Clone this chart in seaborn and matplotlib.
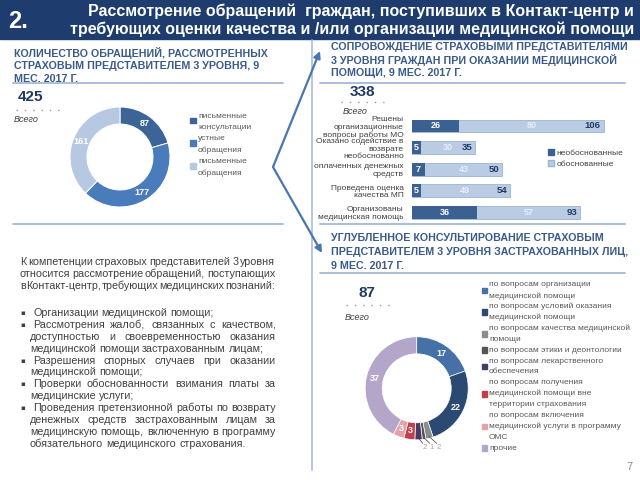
import matplotlib
matplotlib.use('Agg')
import matplotlib.pyplot as plt
import seaborn as sns
import numpy as np
import pandas as pd
from matplotlib.patches import Rectangle, Patch
from matplotlib import font_manager

# ---------------- data ----------------
left_labels = ['письменные\nконсультации', 'устные\nобращения', 'письменные\nобращения']
left_values = [87, 177, 161]

bar_categories = ['Решены\nорганизационные\nвопросы работы МО',
                  'Оказано содействие в\nвозврате\nнеобоснованно',
                  'оплаченных денежных\nсредств',
                  'Проведена оценка\nкачества МП',
                  'Организованы\nмедицинская помощь']
bar_unfounded = [26, 5, 7, 5, 36]
bar_founded = [80, 30, 43, 49, 57]
bar_series = ['необоснованные', 'обоснованные']

consult_labels = ['по вопросам организации\nмедицинской помощи',
                  'по вопросам условий оказания\nмедицинской помощи',
                  'по вопросам качества медицинской\nпомощи',
                  'по вопросам этики и деонтологии',
                  'по вопросам лекарственного\nобеспечения',
                  'по вопросам получения\nмедицинской помощи вне\nтерритории страхования',
                  'по вопросам включения\nмедицинской услуги в программу\nОМС',
                  'прочие']
consult_values = [17, 22, 2, 1, 2, 3, 3, 37]

header_num = '2.'
header_title = ['Рассмотрение обращений  граждан, поступивших в Контакт-центр и',
                'требующих оценки качества и /или организации медицинской помощи']
title_left = ['КОЛИЧЕСТВО ОБРАЩЕНИЙ, РАССМОТРЕННЫХ', 'СТРАХОВЫМ ПРЕДСТАВИТЕЛЕМ 3 УРОВНЯ, 9', 'МЕС. 2017 Г.']
title_rtop = ['СОПРОВОЖДЕНИЕ СТРАХОВЫМИ ПРЕДСТАВИТЕЛЯМИ', '3 УРОВНЯ ГРАЖДАН ПРИ ОКАЗАНИИ МЕДИЦИНСКОЙ', 'ПОМОЩИ, 9 МЕС. 2017 Г.']
title_rbot = ['УГЛУБЛЕННОЕ КОНСУЛЬТИРОВАНИЕ СТРАХОВЫМ', 'ПРЕДСТАВИТЕЛЕМ 3 УРОВНЯ ЗАСТРАХОВАННЫХ ЛИЦ,', '9 МЕС. 2017 Г.']
total_word = 'Всего'

para_intro = [('К компетенции страховых представителей 3 уровня', True),
              ('относится рассмотрение обращений, поступающих', True),
              ('в Контакт-центр, требующих медицинских познаний:', True)]
para_bullets = [
    [('Организации медицинской помощи;', False)],
    [('Рассмотрения жалоб, связанных с качеством,', True),
     ('доступностью и своевременностью оказания', True),
     ('медицинской помощи застрахованным лицам;', False)],
    [('Разрешения спорных случаев при оказании', True),
     ('медицинской помощи;', False)],
    [('Проверки обоснованности взимания платы за', True),
     ('медицинские услуги;', False)],
    [('Проведения претензионной работы по возврату', True),
     ('денежных средств застрахованным лицам за', True),
     ('медицинскую помощь, включенную в программу', True),
     ('обязательного медицинского страхования.', False)],
]
page_no = '7'

# ---------------- style ----------------
sns.set_theme(style='white')
names = {f.name for f in font_manager.fontManager.ttflist}
SANS = 'Liberation Sans' if 'Liberation Sans' in names else 'DejaVu Sans'
plt.rcParams['font.family'] = [SANS, 'DejaVu Sans']

NAVY = '#1e3d6e'
TITLE_C = '#3a5b89'
SEP_C = '#a9bdd9'
NUM_C = '#1f3864'
TXT_C = '#404040'
LEG_C = '#595959'
left_colors = ['#3d6496', '#4a7bbb', '#b6c8e2']
bar_dark, bar_light = '#3b6192', '#b9cce4'
consult_colors = ['#4670a8', '#2b4a72', '#8c8c8c', '#555555', '#463c66', '#c2404c', '#e3a2a8', '#b3a6c8']

W, H = 640, 480
fig = plt.figure(figsize=(6.4, 4.8), dpi=100)
fig.patch.set_facecolor('white')
bg = fig.add_axes([0, 0, 1, 1], zorder=0)
bg.set_xlim(0, W)
bg.set_ylim(H, 0)
bg.axis('off')
renderer = fig.canvas.get_renderer()


def fig_rect(x0, y0, x1, y1):
    return [x0 / W, (H - y1) / H, (x1 - x0) / W, (y1 - y0) / H]


# header
bg.add_patch(Rectangle((0, 0), W, 39, color=NAVY, zorder=1))
bg.text(8, 21, header_num, color='white', fontsize=17, fontweight='bold', va='center', zorder=2)
for i, line in enumerate(header_title):
    bg.text(634, 11 + 18.5 * i, line, color='white', fontsize=11.5, fontweight='bold',
            ha='right', va='center', zorder=2)

# section titles
for lines, x0, y0, dy in [(title_left, 14, 53, 13), (title_rtop, 331, 47, 13), (title_rbot, 331, 238, 14)]:
    for i, line in enumerate(lines):
        bg.text(x0, y0 + dy * i, line, color=TITLE_C, fontsize=7.7, fontweight='bold', va='center')

# separators
for y in (83, 224):
    bg.plot([13, 283], [y, y], color=SEP_C, lw=1.4)
for y in (83, 224, 273):
    bg.plot([320, 625], [y, y], color=SEP_C, lw=1.4)
bg.plot([311.5, 311.5], [40, 470], color=SEP_C, lw=1.2)

# arrows
arrow_kw = dict(arrowstyle='-|>', color='#4a76b0', lw=1.6, mutation_scale=10, shrinkA=0, shrinkB=0)
bg.annotate('', xy=(320, 51), xytext=(273, 167), arrowprops=arrow_kw)
bg.annotate('', xy=(322, 253), xytext=(273, 167), arrowprops=arrow_kw)


def total_block(x_num, y_num, x_dots, y_dots, x_word, y_word, value):
    bg.text(x_num, y_num, str(value), color=NUM_C, fontsize=11, fontweight='bold', ha='center', va='center')
    bg.plot(x_dots, [y_dots, y_dots], color='#9a9a9a', lw=1.0, ls=(0, (1, 5)))
    bg.text(x_word, y_word, total_word, color=TXT_C, fontsize=6.5, fontstyle='italic', va='center')


total_block(30, 97, [16, 60], 110, 14, 119, sum(left_values))
total_block(362, 92, [341, 384], 102, 343, 111, sum(bar_unfounded) + sum(bar_founded))
total_block(367, 293, [346, 390], 305, 345, 318, sum(consult_values))

# ---------------- left donut ----------------
axd1 = fig.add_axes(fig_rect(70, 107, 170, 207), zorder=3)
axd1.pie(left_values, colors=left_colors, startangle=90, counterclock=False,
         wedgeprops=dict(width=0.34, edgecolor='white', linewidth=0.7))
axd1.set_xlim(-1, 1)
axd1.set_ylim(-1, 1)
cum = np.cumsum([0] + left_values)
tot = cum[-1]
for i, v in enumerate(left_values):
    ang = np.deg2rad(90 - 360 * (cum[i] + v / 2) / tot)
    axd1.text(0.83 * np.cos(ang), 0.83 * np.sin(ang), str(v), color='white', fontsize=6.5,
              fontweight='bold', ha='center', va='center')

# left legend
y = 116
for lab, col in zip(left_labels, left_colors):
    lines = lab.split('\n')
    bg.add_patch(Rectangle((190, y + 1.5), 5.5, 5.5, color=col))
    for j, ln in enumerate(lines):
        bg.text(198, y + 11.4 * j, ln, color=LEG_C, fontsize=6, va='center')
    y += 11.4 * len(lines)

# ---------------- bar chart ----------------
df = pd.DataFrame({'cat': bar_categories, 'dark': bar_unfounded, 'light': bar_founded})
df['total'] = df['dark'] + df['light']
px_per_unit = 1.807
axb = fig.add_axes(fig_rect(412, 115.2, 625, 223.2), zorder=3)
sns.barplot(data=df, x='total', y='cat', color=bar_light, width=0.6, saturation=1,
            edgecolor='#9db3d3', linewidth=0.6, ax=axb)
sns.barplot(data=df, x='dark', y='cat', color=bar_dark, width=0.6, saturation=1,
            linewidth=0, ax=axb)
axb.set_xlim(0, (625 - 412) / px_per_unit)
axb.set_ylim(len(df) - 0.5, -0.5)
axb.set_xlabel('')
axb.set_ylabel('')
axb.set_xticks([])
axb.set_yticks(range(len(df)))
axb.set_yticklabels(bar_categories, fontsize=6.0, color=TXT_C, linespacing=1.1)
axb.tick_params(axis='y', length=0, pad=6)
for s in axb.spines.values():
    s.set_visible(False)
axb.patch.set_alpha(0)
for i, r in df.iterrows():
    axb.text(r['dark'] / 2, i, str(r['dark']), color='white', fontsize=6.5, fontweight='bold',
             ha='center', va='center')
    axb.text(r['dark'] + r['light'] / 2, i, str(r['light']), color='#e8eef7', fontsize=6.5,
             fontweight='bold', ha='center', va='center')
    axb.text(r['total'] - 1.5, i, str(r['total']), color=NUM_C, fontsize=6.8, fontweight='bold',
             ha='right', va='center')
handles = [Patch(facecolor=bar_dark, edgecolor=bar_dark), Patch(facecolor=bar_light, edgecolor='#9db3d3')]
axb.legend(handles, bar_series, loc='upper left', bbox_to_anchor=(548 / W, 1 - 149 / H),
           bbox_transform=fig.transFigure, frameon=False, fontsize=6, handlelength=0.7,
           handleheight=0.7, handletextpad=0.3, labelspacing=0.35, borderpad=0, borderaxespad=0,
           labelcolor=TXT_C)

# ---------------- right donut ----------------
R2 = 51.5
axd2 = fig.add_axes(fig_rect(416.7 - R2, 388.3 - R2, 416.7 + R2, 388.3 + R2), zorder=3)
axd2.pie(consult_values, colors=consult_colors, startangle=90, counterclock=False,
         wedgeprops=dict(width=0.33, edgecolor='white', linewidth=0.5))
axd2.set_xlim(-1, 1)
axd2.set_ylim(-1, 1)
cum2 = np.cumsum([0] + consult_values)
tot2 = cum2[-1]
small = []
for i, v in enumerate(consult_values):
    ang = np.deg2rad(90 - 360 * (cum2[i] + v / 2) / tot2)
    if v >= 3:
        axd2.text(0.835 * np.cos(ang), 0.835 * np.sin(ang), str(v), color='white', fontsize=6.5,
                  fontweight='bold', ha='center', va='center')
    else:
        small.append((ang, v))
for k, (ang, v) in enumerate(small):
    x0, y0 = np.cos(ang), np.sin(ang)
    xl = 0.16 + 0.135 * (len(small) - 1 - k)
    axd2.plot([x0 * 0.97, xl - 0.04], [y0 * 0.97, -1.07], color='#404040', lw=0.5, clip_on=False)
    axd2.text(xl, -1.15, str(v), color='#a6a6a6', fontsize=5.5, ha='center', va='center', clip_on=False)

# right legend
y = 285
for lab, col in zip(consult_labels, consult_colors):
    lines = lab.split('\n')
    yc = y + 10.87 * (len(lines) - 1) / 2
    bg.add_patch(Rectangle((481.5, yc - 2.8), 5.6, 5.6, color=col))
    for j, ln in enumerate(lines):
        bg.text(489, y + 10.87 * j, ln, color=LEG_C, fontsize=6, va='center')
    y += 10.87 * len(lines)

# ---------------- paragraph ----------------
PFS = 7.75


def draw_line(x0, x1, y, text, justify):
    words = text.split(' ')
    ts = [bg.text(0, y, w, color=TXT_C, fontsize=PFS, va='center', ha='left') for w in words]
    ws = [t.get_window_extent(renderer).width for t in ts]
    if justify and len(words) > 1:
        gap = (x1 - x0 - sum(ws)) / (len(words) - 1)
    else:
        gap = PFS * 100 / 72 * 0.28
    x = x0
    for t, w in zip(ts, ws):
        t.set_x(x)
        x += w + gap


y = 262
for text, just in para_intro:
    draw_line(20, 275, y, text, just)
    y += 12
y = 313
for item in para_bullets:
    bg.text(20, y, '▪', color=TXT_C, fontsize=5, va='center', family='DejaVu Sans')
    for j, (text, just) in enumerate(item):
        draw_line(33 if j == 0 else 30, 276, y, text, just)
        y += 11.9

bg.text(629, 467, page_no, color='#8c8c8c', fontsize=8, ha='center', va='center')

fig.savefig('out.png', dpi=100)
